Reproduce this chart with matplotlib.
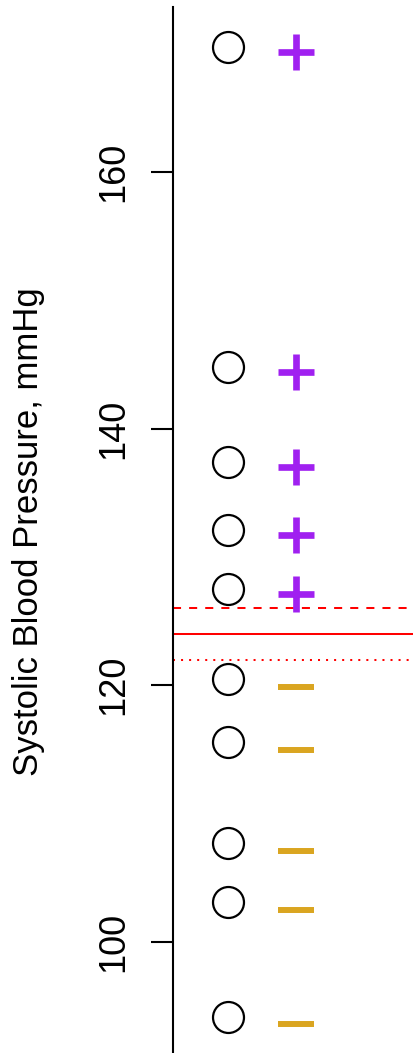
import matplotlib
matplotlib.use("Agg")
import matplotlib.pyplot as plt
import matplotlib.transforms as mtransforms
import numpy as np

# ---- data ----
sbp = [169.7, 144.8, 137.4, 132.1, 127.5, 120.5, 115.6, 107.7, 103.1, 94.2]
center_value = 124.0
upper_value = 126.0
lower_value = 122.0
yticks = [100, 120, 140, 160]
ylabel = "Systolic Blood Pressure, mmHg"

plt.rcParams['font.family'] = ['Liberation Sans', 'DejaVu Sans']

DPI = 100
fig = plt.figure(figsize=(4.14, 10.53), dpi=DPI)
left = 173.3 / 414
ax = fig.add_axes([left, 0.0, 1 - left, (1053 - 7) / 1053])

sbp_arr = np.array(sbp)
x_circ = np.full(len(sbp), 1.0)
x_sign = np.full(len(sbp), 2.0)
plus = sbp_arr > center_value
minus = ~plus

ax.plot(x_circ, sbp_arr, linestyle='none', marker='o', markersize=22.3,
        markerfacecolor='none', markeredgecolor='black', markeredgewidth=1.6,
        zorder=3)

off_plus = mtransforms.ScaledTranslation(0, -5.3 / DPI, fig.dpi_scale_trans)
off_minus = mtransforms.ScaledTranslation(0, -7.9 / DPI, fig.dpi_scale_trans)
ax.plot(x_sign[plus], sbp_arr[plus], linestyle='none', marker='+', markersize=25.9,
        markeredgewidth=4.8, color='#A020F0', transform=ax.transData + off_plus,
        zorder=3)
ax.plot(x_sign[minus], sbp_arr[minus], linestyle='none', marker='_', markersize=25.9,
        markeredgewidth=4.3, color='#DAA520', transform=ax.transData + off_minus,
        zorder=3)

ax.axhline(center_value, color='red', linewidth=1.45, linestyle='-')
ax.axhline(upper_value, color='red', linewidth=1.45, linestyle=(0, (4, 4)))
ax.axhline(lower_value, color='red', linewidth=1.45, linestyle=(0, (1, 3)))

ax.set_xlim(1 - (228 - 173.3) / 68, 1 + (414 - 228) / 68)
ax.set_ylim(160 - (1053 - 171.7) / 12.84, 160 + (171.7 - 7) / 12.84)

for s in ['top', 'right', 'bottom']:
    ax.spines[s].set_visible(False)
ax.spines['left'].set_linewidth(1.5)
ax.set_xticks([])
ax.set_yticks(yticks)
ax.set_yticklabels([str(t) for t in yticks], rotation=90, va='center', fontsize=26)
ax.tick_params(axis='y', length=15.5, width=1.5, pad=15)

ax.set_ylabel(ylabel, fontsize=25, rotation=90, va='center', ha='center')
ax.yaxis.set_label_coords((29 - 173.3) / 240.7, 1 - (532 - 7) / 1046)

fig.savefig("out.png", dpi=DPI)
